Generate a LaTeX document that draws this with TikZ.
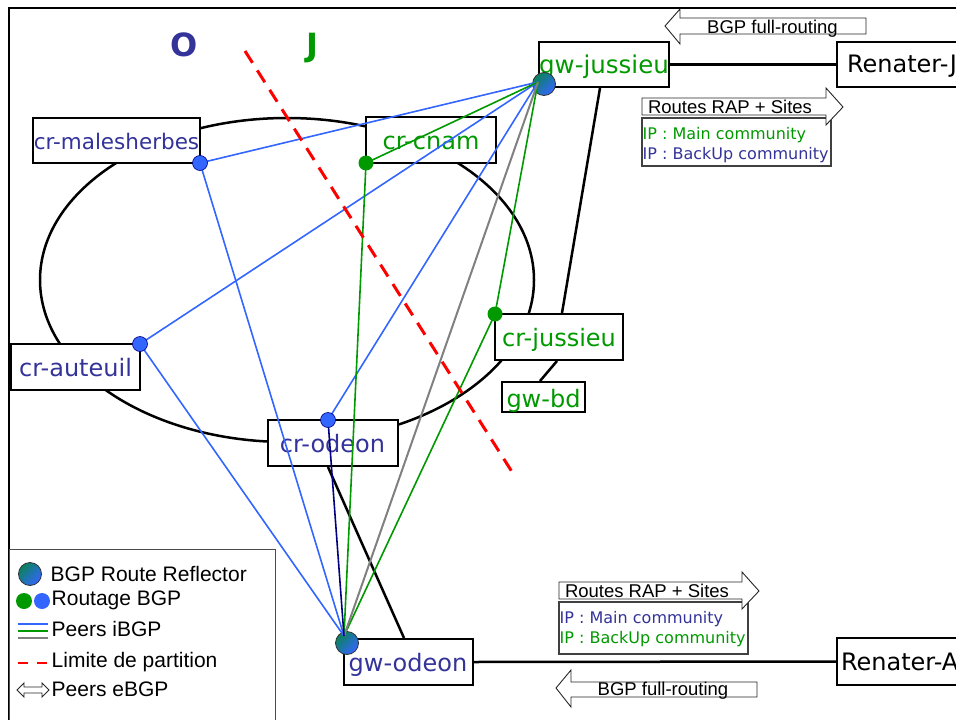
\documentclass[tikz,border=0pt]{standalone}
\usepackage{fontspec}
\newfontfamily\djv{DejaVu Sans}
\newfontfamily\lib{Liberation Sans}

\definecolor{oblue}{RGB}{51,51,153}
\definecolor{jgreen}{RGB}{0,153,0}
\definecolor{lblue}{RGB}{51,102,255}
\definecolor{navyl}{RGB}{0,0,128}
\definecolor{rrteal}{RGB}{10,130,90}
\definecolor{peergray}{RGB}{128,128,128}

\begin{document}
\begin{tikzpicture}[x=1pt,y=-1pt,
  router/.style={draw, line width=2, fill=white, inner sep=0, text height=18, text depth=0,
    font=\djv\fontsize{24}{28}\selectfont},
  link/.style={line width=2.5, black},
  ibgpblue/.style={line width=1.6, lblue},
  ibgpgreen/.style={line width=1.6, jgreen},
  ibgpgray/.style={line width=2, peergray},
  ibgpnavy/.style={line width=1.6, navyl},
  reflector/.style={circle, minimum size=23, inner sep=0, draw=black!80, line width=0.8,
    top color=rrteal, bottom color=lblue, shading angle=45},
  bluedot/.style={circle, minimum size=15, inner sep=0, fill=lblue, draw=navyl, line width=0.6},
  greendot/.style={circle, minimum size=15, inner sep=0, fill=jgreen},
  bigarrow/.style={draw=black!85, line width=0.9, fill=white},
  arrowtext/.style={anchor=base, inner sep=0, font=\lib\fontsize{18.5}{22}\selectfont},
  infobox/.style={draw=black!75, line width=1.2},
  infotext/.style={anchor=base west, inner sep=0, font=\djv\fontsize{16}{20}\selectfont},
  legendtext/.style={anchor=base west, inner sep=0, font=\lib\fontsize{21}{24}\selectfont},
  partition/.style={red, line width=3, dash pattern=on 14pt off 9pt}]

\useasboundingbox (0,0) rectangle (956,720);
\clip (0,0) rectangle (956,720);

% outer frame
\draw[line width=2.5] (9,740) -- (9,8) -- (970,8);

% backbone ring
\draw[link] (287,280) ellipse [x radius=247, y radius=162];

% routers
\node[router, text=oblue, minimum width=167, minimum height=45,
  font=\djv\fontsize{21.5}{26}\selectfont, text height=17] (crm) at (116.5,140.5) {cr-malesherbes};
\node[router, text=jgreen, minimum width=130, minimum height=46] (crc) at (431,140) {cr-cnam};
\node[router, text=jgreen, minimum width=128, minimum height=45,
  font=\djv\fontsize{24.5}{28}\selectfont, text height=17] (gwj) at (604,64.5) {gw-jussieu};
\node[router, text=jgreen, minimum width=128, minimum height=46] (crj) at (559,337) {cr-jussieu};
\node[router, text=jgreen, minimum width=83, minimum height=30, text height=21.4] (gwbd) at (543.5,397) {gw-bd};
\node[router, text=oblue, minimum width=129, minimum height=46] (crau) at (75.5,367) {cr-auteuil};
\node[router, text=oblue, minimum width=130, minimum height=46] (cro) at (332.5,443) {cr-odeon};
\node[router, text=oblue, minimum width=129, minimum height=46] (gwo) at (408,662) {gw-odeon};
\node[router, text=black, anchor=west, minimum height=45, text height=16, text width=120,
  inner xsep=10, align=left] (renJ) at (836,64.5) {Renater-J};
\node[router, text=black, anchor=west, minimum height=47, text width=120,
  inner xsep=4, align=left] (renA) at (836,661.5) {Renater-A};

% physical links
\draw[link] (gwj.east) -- (renJ.west);
\draw[link] (gwo.east) -- (renA.west);
\draw[link] ([xshift=-4pt]gwj.south) -- ([xshift=3pt]crj.north);
\draw[link] ([xshift=-2pt]crj.south) -- ([xshift=-3.5pt]gwbd.north);
\draw[link] ([xshift=-4.5pt]cro.south) -- ([xshift=-4pt]gwo.north);

% iBGP attachment points
\coordinate (hubJ) at (538,82);
\coordinate (hubO) at (344,636);
\coordinate (pMal) at (200,163);
\coordinate (pCnam) at (366,163);
\coordinate (pAut) at (140,344);
\coordinate (pOde) at (328,420);
\coordinate (pCrj) at (495,314);

% route reflectors (under the sessions)
\node[reflector] (rrJ) at (544,84) {};
\node[reflector] (rrO) at (347,643) {};

% iBGP sessions
\draw[ibgpblue] (hubJ) -- (pMal);
\draw[ibgpblue] (hubJ) -- (pAut);
\draw[ibgpblue] (hubJ) -- (pOde);
\draw[ibgpgreen] (hubJ) -- (pCnam);
\draw[ibgpgreen] (hubJ) -- (pCrj);
\draw[ibgpblue] (hubO) -- (pMal);
\draw[ibgpblue] (hubO) -- (pAut);
\draw[ibgpgreen] (hubO) -- (pCnam);
\draw[ibgpgreen] (hubO) -- (pCrj);
\draw[ibgpgray] (hubJ) -- (hubO);
\draw[ibgpnavy] (pOde) -- (hubO);

% BGP speakers
\node[bluedot] (dMal) at (pMal) {};
\node[bluedot] (dAut) at (pAut) {};
\node[bluedot] (dOde) at (pOde) {};
\node[greendot] (dCnam) at (pCnam) {};
\node[greendot] (dCrj) at (pCrj) {};

% partition boundary
\coordinate (cutA) at (245,51);
\coordinate (cutB) at (514,475);
\draw[partition] (cutA) -- (cutB);

% side labels
\node[anchor=base, inner sep=0, text=oblue, font=\djv\bfseries\fontsize{32}{36}\selectfont] (sideO) at (184,56) {O};
\node[anchor=base, inner sep=0, text=jgreen, font=\djv\bfseries\fontsize{32}{36}\selectfont] (sideJ) at (312,56) {J};

% eBGP announcements, Jussieu side
\draw[bigarrow] (665,26) -- (680,9) -- (680,18) -- (866,18) -- (866,34) -- (680,34) -- (680,44) -- cycle;
\node[arrowtext] (fullJ) at (772.5,33) {BGP full-routing};
\draw[infobox] (642,118) rectangle (831,166);
\draw[bigarrow] (642,98) -- (826,98) -- (826,88) -- (843,107) -- (826,125) -- (826,115) -- (642,115) -- cycle;
\node[arrowtext] (rapJ) at (730,113.3) {Routes RAP + Sites};
\node[infotext, text=jgreen] (mainJ) at (642.5,139.3) {IP : Main community};
\node[infotext, text=oblue] (backJ) at (642.5,159.3) {IP : BackUp community};

% eBGP announcements, Odeon side
\draw[infobox] (559,602) rectangle (748,654);
\draw[bigarrow] (559,582) -- (742,582) -- (742,572) -- (759,591) -- (742,609) -- (742,599) -- (559,599) -- cycle;
\node[arrowtext] (rapO) at (647,597.3) {Routes RAP + Sites};
\node[infotext, text=oblue] (mainO) at (559.5,623.3) {IP : Main community};
\node[infotext, text=jgreen] (backO) at (559.5,643.3) {IP : BackUp community};
\draw[bigarrow] (556,688) -- (571,670) -- (571,682) -- (757,682) -- (757,697) -- (571,697) -- (571,707) -- cycle;
\node[arrowtext] (fullO) at (663,695) {BGP full-routing};

% legend
\draw[draw=black!70, line width=1, fill=white] (9,549) rectangle (275,740);
\node[reflector] (keyRR) at (30,574) {};
\node[legendtext] (keyRRt) at (50.5,581) {BGP Route Reflector};
\node[greendot, minimum size=16] (keyG) at (24,601) {};
\node[bluedot, minimum size=16, draw=none] (keyB) at (42,601) {};
\node[legendtext] (keyBt) at (51.5,605) {Routage BGP};
\coordinate (kl1) at (18,624); \coordinate (kr1) at (48,624);
\coordinate (kl2) at (18,631); \coordinate (kr2) at (48,631);
\coordinate (kl3) at (18,638); \coordinate (kr3) at (48,638);
\draw[line width=2, lblue] (kl1) -- (kr1);
\draw[line width=2, jgreen] (kl2) -- (kr2);
\draw[line width=2, peergray] (kl3) -- (kr3);
\node[legendtext] (keyIt) at (51.5,636.7) {Peers iBGP};
\coordinate (kd1) at (18,663); \coordinate (kd2) at (48,663);
\draw[red, line width=2.5, dash pattern=on 10pt off 9pt] (kd1) -- (kd2);
\node[legendtext] (keyPt) at (51.5,667.7) {Limite de partition};
\draw[bigarrow, line width=0.8] (17,690) -- (24,683) -- (24,687) -- (42,687) -- (42,683) -- (49,690) -- (42,697) -- (42,693) -- (24,693) -- (24,697) -- cycle;
\node[legendtext] (keyEt) at (51.5,696.7) {Peers eBGP};

\end{tikzpicture}
\end{document}
